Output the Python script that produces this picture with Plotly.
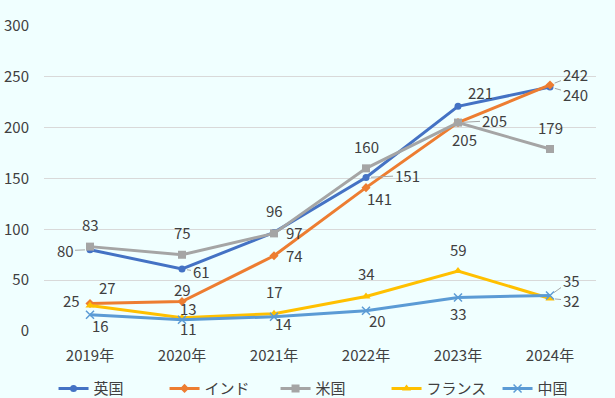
import plotly.graph_objects as go

years = ["2019年", "2020年", "2021年", "2022年", "2023年", "2024年"]
series_names = ["英国", "インド", "米国", "フランス", "中国"]
uk = [80, 61, 97, 151, 221, 240]
india = [27, 29, 74, 141, 205, 242]
us = [83, 75, 96, 160, 205, 179]
france = [25, 13, 17, 34, 59, 32]
china = [16, 11, 14, 20, 33, 35]
y_ticks = [0, 50, 100, 150, 200, 250, 300]

values = [uk, india, us, france, china]
colors = ["#4472C4", "#ED7D31", "#A5A5A5", "#FFC000", "#5B9BD5"]
symbols = ["circle", "diamond", "square", "triangle-up", "x-thin-open"]
msizes = [7, 7, 8, 8, 8]

# label offsets (dx, dy in px, screen coords) and whether a leader line is drawn
offsets = [
    [(-25, 1, True), (19, 3, True), (20, 0, False), (41, -2, True), (22, -14, False), (25, 7, True)],
    [(17, -16, False), (0, -12, False), (20, 0, False), (13, 11, False), (6, 17, False), (25, -10, True)],
    [(0, -22, False), (0, -22, False), (0, -23, False), (0, -22, False), (36, -2, True), (0, -22, False)],
    [(-19, -5, False), (6, -9, False), (0, -22, False), (0, -23, False), (0, -22, False), (21, 2, True)],
    [(10, 11, False), (6, 9, False), (9, 7, False), (11, 10, False), (0, 16, False), (21, -15, True)],
]

font_family = "Noto Sans CJK JP, Noto Sans, sans-serif"
text_color = "#404040"
fsize = 15
bg = "#F0FFFF"

fig = go.Figure()
for name, vals, c, sym, ms in zip(series_names, values, colors, symbols, msizes):
    marker = dict(symbol=sym, size=ms, color=c)
    if sym.startswith("x"):
        marker["line"] = dict(color=c, width=1.5)
    fig.add_trace(go.Scatter(
        x=years, y=vals, name=name, mode="lines+markers",
        line=dict(color=c, width=3), marker=marker,
    ))

annotations = []
for vals, offs in zip(values, offsets):
    for xcat, v, (dx, dy, leader) in zip(years, vals, offs):
        if leader:
            annotations.append(dict(
                x=xcat, y=v, xref="x", yref="y", text=str(v),
                showarrow=True, ax=dx, ay=dy, arrowhead=0, arrowwidth=1,
                arrowcolor="#A6A6A6", standoff=5,
                font=dict(size=fsize, color=text_color, family=font_family),
            ))
        else:
            annotations.append(dict(
                x=xcat, y=v, xref="x", yref="y", text=str(v),
                showarrow=False, xshift=dx, yshift=-dy,
                font=dict(size=fsize, color=text_color, family=font_family),
            ))

fig.update_layout(
    width=615, height=398,
    paper_bgcolor=bg, plot_bgcolor=bg,
    margin=dict(l=44, r=19, t=26, b=67, autoexpand=False),
    font=dict(family=font_family, size=fsize, color=text_color),
    showlegend=True,
    legend=dict(orientation="h", x=0.52, xanchor="center", y=-0.135, yanchor="top",
                font=dict(size=fsize, color=text_color), entrywidth=66,
                itemwidth=30, tracegroupgap=0,
                bgcolor="rgba(0,0,0,0)"),
    xaxis=dict(type="category", range=[-0.5, 5.5], showgrid=False, showline=False,
               ticks="", ticklabelstandoff=14, automargin=False,
               tickfont=dict(size=fsize, color=text_color)),
    yaxis=dict(range=[0, 300], tickvals=y_ticks, showgrid=True, gridcolor="#D9D9D9",
               gridwidth=1, zeroline=False, showline=False, ticks="", ticklabelstandoff=14,
               automargin=False, tickfont=dict(size=fsize, color=text_color)),
    annotations=annotations,
)

fig.write_html(
    "out.html",
    config={"displayModeBar": False},
    post_script="document.body.style.margin='0';document.body.style.overflow='hidden';"
                "document.body.style.background='" + bg + "';",
)
